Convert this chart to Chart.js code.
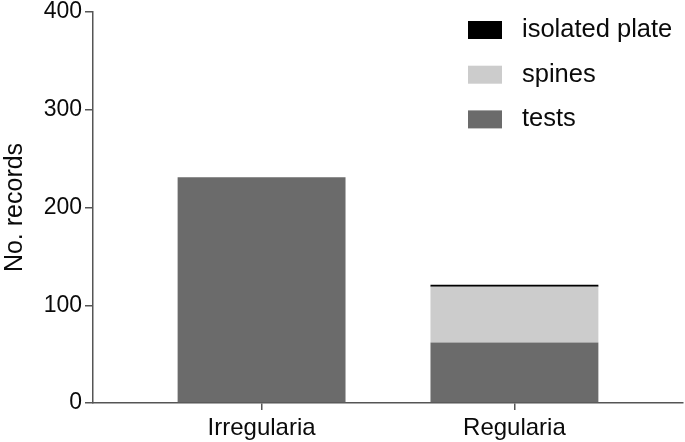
<!DOCTYPE html>
<html>
<head>
<meta charset="utf-8">
<script src="https://cdn.jsdelivr.net/npm/chart.js@4.4.1/dist/chart.umd.min.js"></script>
<style>
    html, body { margin: 0; padding: 0; background: #fff; }
    #wrap { width: 685px; height: 442px; position: relative; }
</style>
</head>
<body>
<div id="wrap"><canvas id="grafico"></canvas></div>
<script>
// Dados do gráfico
const categorias = ['Irregularia', 'Regularia'];
const testes = [231, 62];
const espinhos = [0, 57];
const placaIsolada = [0, 2];
const yTicks = [0, 100, 200, 300, 400];

const FONTE = '"Liberation Sans", Arial, Helvetica, sans-serif';
const COR_EIXO = '#555';
const COR_TEXTO = '#0a0a0a';

function pontos(valores) {
    return categorias.map((c, i) => ({ x: i, y: valores[i] }));
}

// Legenda desenhada dentro da área do gráfico, em coluna
const legendaPlugin = {
    id: 'legendaColuna',
    afterDraw(chart) {
        const ctx = chart.ctx;
        const area = chart.chartArea;
        const itens = chart.data.datasets.slice().reverse();
        const x0 = area.right - 215;
        ctx.save();
        ctx.font = '25.5px ' + FONTE;
        ctx.textBaseline = 'middle';
        ctx.textAlign = 'left';
        itens.forEach((ds, i) => {
            const top = 21 + i * 44.7;
            ctx.fillStyle = ds.backgroundColor;
            ctx.fillRect(x0, top, 34, 18);
            ctx.fillStyle = COR_TEXTO;
            ctx.fillText(ds.label, x0 + 54, top + 9);
        });
        ctx.restore();
    }
};

const ctx = document.getElementById('grafico').getContext('2d');
const grafico = new Chart(ctx, {
    type: 'bar',
    data: {
        datasets: [
            { label: 'tests', data: pontos(testes), backgroundColor: '#6b6b6b' },
            { label: 'spines', data: pontos(espinhos), backgroundColor: '#cccccc' },
            { label: 'isolated plate', data: pontos(placaIsolada), backgroundColor: '#000000' }
        ]
    },
    options: {
        responsive: true,
        maintainAspectRatio: false,
        animation: false,
        datasets: {
            bar: { barPercentage: 0.664, categoryPercentage: 1, borderWidth: 0 }
        },
        layout: { padding: { top: 12, right: 2, left: 0, bottom: 0 } },
        scales: {
            x: {
                type: 'linear',
                stacked: true,
                offset: false,
                min: -2 / 3,
                max: 5 / 3,
                afterBuildTicks: (scale) => {
                    scale.ticks = categorias.map((c, i) => ({ value: i }));
                },
                afterFit: (scale) => {
                    scale.height = 39;
                    scale.paddingLeft = 0;
                    scale.paddingRight = 0;
                },
                ticks: {
                    color: COR_TEXTO,
                    font: { family: FONTE, size: 24 },
                    padding: 4,
                    maxRotation: 0,
                    autoSkip: false,
                    callback: (v) => categorias[v]
                },
                grid: {
                    offset: false,
                    drawOnChartArea: false,
                    drawTicks: true,
                    tickLength: 7,
                    color: COR_EIXO,
                    lineWidth: 1.5
                },
                border: { color: COR_EIXO, width: 1.5 }
            },
            y: {
                stacked: true,
                min: 0,
                max: 400,
                afterBuildTicks: (scale) => {
                    scale.ticks = yTicks.map(v => ({ value: v }));
                },
                afterFit: (scale) => {
                    scale.width = 93;
                    scale.paddingTop = 0;
                    scale.paddingBottom = 0;
                },
                ticks: {
                    color: COR_TEXTO,
                    font: { family: FONTE, size: 23 },
                    padding: 3
                },
                grid: {
                    drawOnChartArea: false,
                    drawTicks: true,
                    tickLength: 8,
                    color: COR_EIXO,
                    lineWidth: 1.5
                },
                border: { color: COR_EIXO, width: 1.5 },
                title: {
                    display: true,
                    text: 'No. records',
                    color: COR_TEXTO,
                    font: { family: FONTE, size: 25 },
                    padding: { top: 0, bottom: 0 }
                }
            }
        },
        plugins: {
            legend: { display: false },
            tooltip: { enabled: false }
        }
    },
    plugins: [legendaPlugin]
});
</script>
</body>
</html>
